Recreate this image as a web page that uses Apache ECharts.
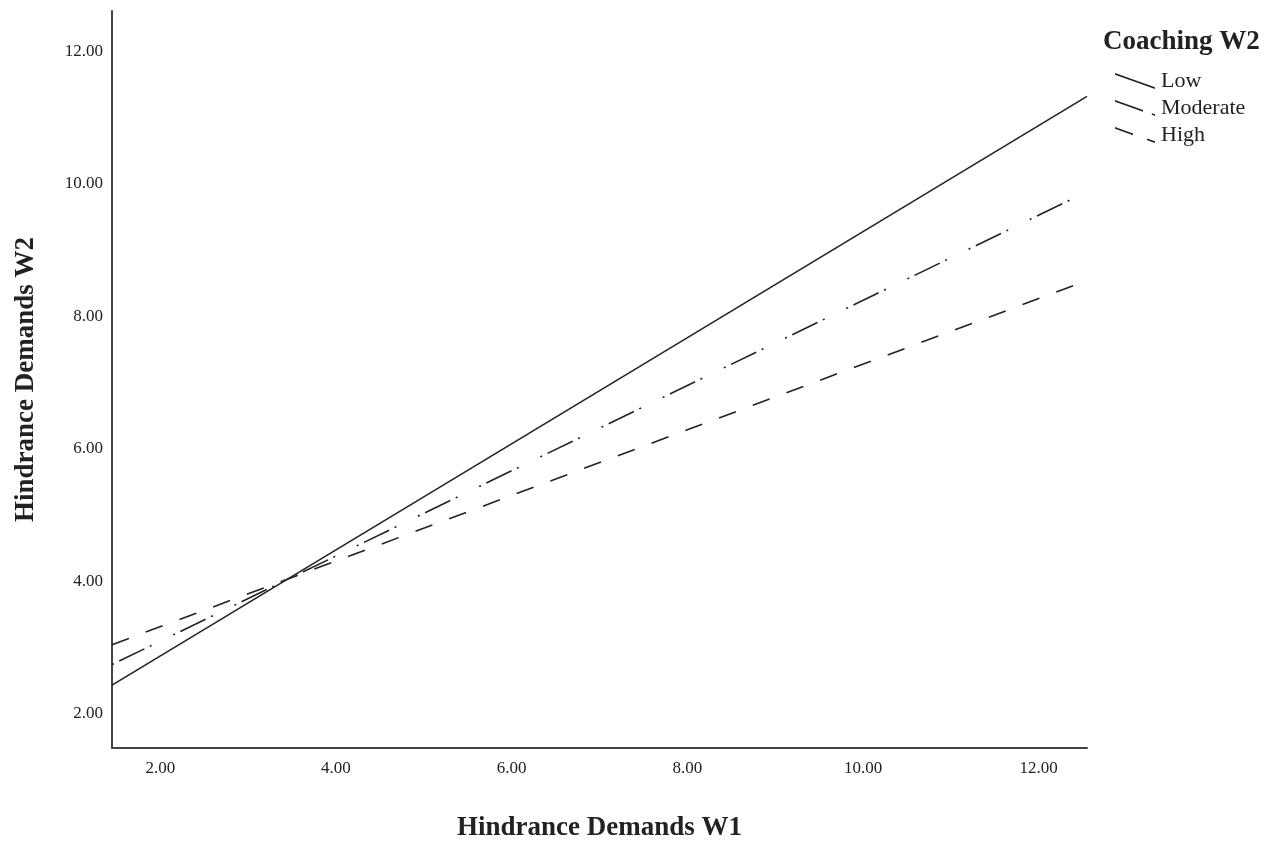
<!DOCTYPE html>
<html>
<head>
<meta charset="utf-8">
<title>Hindrance Demands</title>
<script src="https://cdn.jsdelivr.net/npm/echarts@6/dist/echarts.min.js"></script>
<style>
  html, body { margin: 0; padding: 0; background: #fff; }
  #chart { width: 1271px; height: 847px; }
</style>
</head>
<body>
<div id="chart"></div>
<script>
// data (straight lines, so two ends are enough)
var xValues = [1.45, 12.55];
var lowValues = [2.43, 11.32];
var moderateValues = [2.74, 9.88];
var highValues = [3.04, 8.54];
var seriesNames = ['Low', 'Moderate', 'High'];
var xTicks = [2, 4, 6, 8, 10, 12];
var yTicks = [2, 4, 6, 8, 10, 12];

var serif = '"Liberation Serif", "Times New Roman", serif';
var ink = '#222';

// slanted legend icon, built from pieces along the diagonal (t from 0 to 1)
function slantIcon(pieces) {
    var w = 40, h = 16, th = 1.7, d = '';
    pieces.forEach(function (p) {
        var x0 = p[0] * w, x1 = p[1] * w;
        var y0 = p[0] * (h - th), y1 = p[1] * (h - th);
        d += 'M' + x0 + ',' + y0 + ' L' + x1 + ',' + y1 +
             ' L' + x1 + ',' + (y1 + th) + ' L' + x0 + ',' + (y0 + th) + ' Z ';
    });
    return 'path://' + d;
}

function pairs(ys) {
    return xValues.map(function (x, i) { return [x, ys[i]]; });
}

function tickFmt(list) {
    return function (v) {
        for (var i = 0; i < list.length; i++) {
            if (Math.abs(list[i] - v) < 1e-6) return list[i].toFixed(2);
        }
        return '';
    };
}

var myChart = echarts.init(document.getElementById('chart'));
var option = {
    backgroundColor: '#fff',
    animation: false,
    title: {
        text: 'Coaching W2',
        left: 1103,
        top: 29,
        padding: 0,
        textStyle: { fontFamily: serif, fontSize: 27, fontWeight: 'bold', color: ink }
    },
    legend: {
        orient: 'vertical',
        left: 1115,
        top: 68,
        padding: 0,
        itemGap: 1,
        itemWidth: 40,
        itemHeight: 16,
        selectedMode: false,
        itemStyle: { color: ink, borderWidth: 0 },
        textStyle: { fontFamily: serif, fontSize: 22, color: ink, lineHeight: 26, padding: [0, 0, 0, 1] },
        data: [
            { name: 'Low', icon: slantIcon([[0, 1]]) },
            { name: 'Moderate', icon: slantIcon([[0, 0.7], [0.92, 1]]) },
            { name: 'High', icon: slantIcon([[0, 0.45], [0.8, 1]]) }
        ]
    },
    grid: { left: 112, top: 11, right: 184, bottom: 84 },
    xAxis: {
        type: 'value',
        min: 1.45,
        max: 12.55,
        minInterval: 2,
        maxInterval: 2,
        name: 'Hindrance Demands W1',
        nameLocation: 'middle',
        nameGap: 67,
        nameTextStyle: { fontFamily: serif, fontSize: 27, fontWeight: 'bold', color: ink },
        axisLine: { lineStyle: { color: '#444', width: 2 } },
        axisTick: { show: false },
        splitLine: { show: false },
        axisLabel: {
            fontFamily: serif, fontSize: 17, color: ink, margin: 12,
            showMinLabel: false, showMaxLabel: false,
            formatter: tickFmt(xTicks)
        }
    },
    yAxis: {
        type: 'value',
        min: 1.48,
        max: 12.61,
        minInterval: 2,
        maxInterval: 2,
        name: 'Hindrance Demands W2',
        nameLocation: 'middle',
        nameGap: 72,
        nameTextStyle: { fontFamily: serif, fontSize: 27, fontWeight: 'bold', color: ink },
        axisLine: { show: true, lineStyle: { color: '#444', width: 2 } },
        axisTick: { show: false },
        splitLine: { show: false },
        axisLabel: {
            fontFamily: serif, fontSize: 17, color: ink, margin: 9,
            showMinLabel: false, showMaxLabel: false,
            formatter: tickFmt(yTicks)
        }
    },
    series: [
        {
            name: seriesNames[0],
            type: 'line',
            data: pairs(lowValues),
            showSymbol: false,
            color: ink,
            lineStyle: { color: ink, width: 1.6, type: 'solid' }
        },
        {
            name: seriesNames[1],
            type: 'line',
            data: pairs(moderateValues),
            showSymbol: false,
            color: ink,
            lineStyle: { color: ink, width: 1.6, type: [2, 6, 28, 6, 2, 24] }
        },
        {
            name: seriesNames[2],
            type: 'line',
            data: pairs(highValues),
            showSymbol: false,
            color: ink,
            lineStyle: { color: ink, width: 1.6, type: [18, 18] }
        }
    ]
};
myChart.setOption(option);
</script>
</body>
</html>
